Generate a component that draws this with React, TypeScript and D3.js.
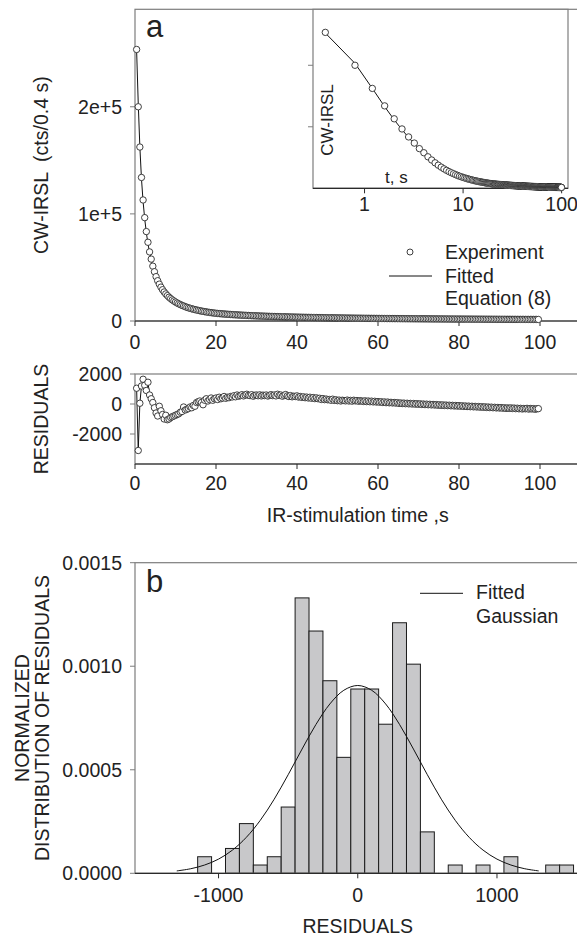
import React from 'react';
import * as d3 from 'd3';

// ---------- DATA ----------
const CHANNEL_S = 0.4; // CW-IRSL channel width (s)

// CW-IRSL intensity (cts / 0.4 s), channel 1..249
const intensity: number[] = [
  253500, 200000, 162400, 134000, 113000, 96500, 83500, 73500, 64500, 57800, 51200, 46000, 41400,
  37600, 34400, 31600, 29200, 27100, 25300, 23700, 22200, 20900, 19700, 18700, 17700, 16800, 16000,
  15300, 14600, 14000, 13400, 12800, 12300, 11900, 11400, 11000, 10600, 10300, 9900, 9600, 9300, 9000,
  8700, 8500, 8200, 8000, 7800, 7600, 7400, 7200,
  7050, 6910, 6780, 6660, 6540, 6420, 6310, 6200, 6090, 5990,
  5890, 5800, 5710, 5620, 5530, 5450, 5370, 5290, 5210, 5140,
  5060, 4990, 4920, 4860, 4790, 4730, 4670, 4610, 4550, 4490,
  4440, 4380, 4330, 4280, 4230, 4180, 4130, 4090, 4040, 3990,
  3950, 3910, 3870, 3820, 3780, 3740, 3710, 3670, 3630, 3600,
  3560, 3520, 3490, 3460, 3420, 3390, 3360, 3330, 3300, 3270,
  3240, 3210, 3180, 3150, 3130, 3100, 3070, 3050, 3020, 3000,
  2970, 2950, 2920, 2900, 2880, 2850, 2830, 2810, 2790, 2770,
  2740, 2720, 2700, 2680, 2660, 2640, 2620, 2610, 2590, 2570,
  2550, 2530, 2510, 2500, 2480, 2460, 2450, 2430, 2410, 2400,
  2380, 2370, 2350, 2330, 2320, 2300, 2290, 2280, 2260, 2250,
  2230, 2220, 2210, 2190, 2180, 2170, 2150, 2140, 2130, 2110,
  2100, 2090, 2080, 2070, 2050, 2040, 2030, 2020, 2010, 2000,
  1990, 1980, 1960, 1950, 1940, 1930, 1920, 1910, 1900, 1890,
  1880, 1870, 1860, 1850, 1840, 1830, 1820, 1820, 1810, 1800,
  1790, 1780, 1770, 1760, 1750, 1750, 1740, 1730, 1720, 1710,
  1700, 1700, 1690, 1680, 1670, 1660, 1660, 1650, 1640, 1630,
  1630, 1620, 1610, 1600, 1600, 1590, 1580, 1580, 1570, 1560,
  1560, 1550, 1540, 1540, 1530, 1520, 1520, 1510, 1500, 1500,
  1490, 1490, 1480, 1470, 1470, 1460, 1460, 1450, 1440,
];

// residuals (experiment - fit), channel 1..249
const residuals: number[] = [
  1050, -3100, 50, 1200, 1650, 1250, 900, 1450, 600, 350,
  100, -250, -600, -800, -150, -450, -700, -1000, -750, -1050,
  -1000, -900, -850, -800, -750, -700, -650, -550, -500, -200,
  -400, -350, -300, -200, -250, -100, -150, 100, 150, 200,
  100, -50, 250, 350, 200, 300, 400, 250, 350, 400,
  300, 450, 350, 400, 500, 380, 450, 420, 500, 470,
  550, 480, 600, 520, 560, 620, 540, 600, 650, 580,
  560, 620, 520, 580, 600, 550, 610, 540, 590, 560,
  600, 530, 580, 620, 560, 600, 540, 650, 570, 600,
  520, 580, 630, 540, 500, 560, 480, 520, 500, 540,
  460, 500, 440, 480, 420, 460, 400, 450, 380, 430,
  360, 410, 350, 380, 300, 360, 290, 330, 280, 300,
  250, 320, 240, 280, 220, 260, 200, 250, 230, 210,
  260, 200, 240, 190, 250, 210, 230, 180, 220, 200,
  170, 210, 160, 200, 150, 190, 140, 180, 130, 160,
  120, 150, 100, 140, 90, 130, 80, 110, 70, 100,
  60, 90, 40, 70, 30, 60, 20, 50, 10, 40,
  0, 30, -10, 20, -20, 10, -30, 0, -40, -10,
  -50, -20, -60, -30, -70, -40, -80, -50, -90, -60,
  -100, -70, -110, -80, -120, -90, -130, -100, -140, -110,
  -150, -120, -160, -130, -170, -140, -180, -150, -190, -160,
  -200, -170, -210, -180, -220, -190, -230, -200, -240, -210,
  -250, -220, -260, -230, -270, -240, -280, -250, -290, -260,
  -290, -260, -300, -270, -310, -280, -320, -290, -330, -300,
  -320, -290, -340, -300, -330, -310, -350, -320, -310,
];

// histogram of residuals (bin left edges, width 100) and normalized density
const binStarts: number[] = [-1150, -1050, -950, -850, -750, -650, -550, -450, -350, -250, -150, -50, 50, 150, 250, 350, 450, 550, 650, 750, 850, 950, 1050, 1150, 1250, 1350, 1450];
const binDensity: number[] = [0.00008, 0, 0.00012, 0.00024, 0.00004, 0.00008, 0.00032, 0.00133, 0.00117, 0.00093, 0.00056, 0.00089, 0.00089, 0.00072, 0.00121, 0.00101, 0.0002, 0, 0.00004, 0, 0.00004, 0, 0.00008, 0, 0, 0.00004, 0.00004];
const BIN_WIDTH = 100;

// fitted gaussian curve, sampled
const gaussX: number[] = [-1300, -1200, -1100, -1000, -900, -800, -700, -600, -500, -400, -300, -200, -100, 0, 100, 200, 300, 400, 500, 600, 700, 800, 900, 1000, 1100, 1200, 1300];
const gaussY: number[] = [0.0000115, 0.000022, 0.00004, 0.0000685, 0.000112, 0.000174, 0.000256, 0.000358, 0.000476, 0.0006, 0.000719, 0.000818, 0.000884, 0.000907, 0.000884, 0.000818, 0.000719, 0.0006, 0.000476, 0.000358, 0.000256, 0.000174, 0.000112, 0.0000685, 0.00004, 0.000022, 0.0000115];

// ticks
const xTicksTime = [0, 20, 40, 60, 80, 100];
const yTicksA = [0, 100000, 200000];
const yTickLabelsA = ['0', '1e+5', '2e+5'];
const yTicksR = [2000, 0, -2000];
const yTickLabelsR = ['2000', '0', '-2000'];
const xTicksInset = [1, 10, 100];
const yTicksInset = [100000, 200000];
const xTicksB = [-1000, 0, 1000];
const yTicksB = [0, 0.0005, 0.001, 0.0015];
const yTickLabelsB = ['0.0000', '0.0005', '0.0010', '0.0015'];

// ---------- STYLE ----------
const FONT = '"Liberation Sans", Arial, Helvetica, sans-serif';
const FS = 19.5;
const TXT = '#222';
const FRAME = '#7d7d7d';
const AXIS = '#2a2a2a';
const TICK = 5;

export default function App() {
  const W = 577, H = 937;
  const times = intensity.map((_, i) => +((i + 1) * CHANNEL_S).toFixed(1));
  const fitted = intensity.map((v, i) => v - residuals[i]);

  // panel a
  const AL = 135, AT = 9.3, AB = 321, RIGHT = 580.5;
  const xA = d3.scaleLinear().domain([0, 110]).range([AL, RIGHT]);
  const yA = d3.scaleLinear().domain([0, 291000]).range([AB, AT]);
  // residuals panel
  const RT = 374, RB = 464;
  const yR = d3.scaleLinear().domain([-4000, 2000]).range([RB, RT]);
  // inset
  const IL = 313, IR = 568, IT = AT, IB = 188.3;
  const xI = d3.scaleLog().domain([0.3, 116]).range([IL, IR]);
  const yI = d3.scaleLinear().domain([0, 291000]).range([IB, IT]);
  // panel b
  const BT = 562.7, BB = 873.3;
  const xB = d3.scaleLinear().domain([-1600, 1600]).range([AL, RIGHT]);
  const yB = d3.scaleLinear().domain([0, 0.0015]).range([BB, BT]);

  const lineA = d3.line<number>().x((_, i) => xA(times[i])).y((d) => yA(d));
  const lineI = d3.line<number>().x((_, i) => xI(times[i])).y((d) => yI(d));
  const lineR = d3.line<number>().x((_, i) => xA(times[i])).y((d) => yR(d));
  const lineG = d3.line<number>().x((_, i) => xB(gaussX[i])).y((d) => yB(d)).curve(d3.curveCatmullRom);

  const R = 3.2;
  const circleStyle = { fill: '#fff', stroke: '#2a2a2a', strokeWidth: 0.9 };

  const frame = (x0: number, y0: number, x1: number, y1: number) => (
    <g>
      <rect x={x0} y={y0} width={x1 - x0} height={y1 - y0} fill="none" stroke={FRAME} strokeWidth={1.2} />
      <line x1={x0} x2={x1} y1={y1} y2={y1} stroke={AXIS} strokeWidth={1.2} />
    </g>
  );

  const xMid = (AL + RIGHT) / 2;

  return (
    <svg width={W} height={H} viewBox={`0 0 ${W} ${H}`} style={{ position: 'absolute', left: 0, top: 0, background: '#fff' }} fontFamily={FONT}>
      <rect x={0} y={0} width={W} height={H} fill="#fff" />

      {/* ================= PANEL A ================= */}
      {frame(AL, AT, RIGHT + 2, AB)}
      {xTicksTime.map((t) => (
        <g key={'xa' + t}>
          <line x1={xA(t)} x2={xA(t)} y1={AB} y2={AB + TICK} stroke={AXIS} />
          <text x={xA(t)} y={349} textAnchor="middle" fontSize={FS} fill={TXT}>{t}</text>
        </g>
      ))}
      {yTicksA.map((v, i) => (
        <g key={'ya' + v}>
          <line x1={AL - TICK} x2={AL} y1={yA(v)} y2={yA(v)} stroke={FRAME} />
          <text x={122} y={yA(v) + 7} textAnchor="end" fontSize={FS} fill={TXT}>{yTickLabelsA[i]}</text>
        </g>
      ))}
      <text transform={`translate(47.5,${(AT + AB) / 2}) rotate(-90)`} textAnchor="middle" fontSize={FS} fill={TXT} xmlSpace="preserve">CW-IRSL  (cts/0.4 s)</text>
      <text x={146} y={37} fontSize={31} fill={TXT}>a</text>

      <path d={lineA(fitted) || ''} fill="none" stroke="#111" strokeWidth={1} />
      {intensity.map((v, i) => (
        <circle key={'pa' + i} cx={xA(times[i])} cy={yA(v)} r={R} {...circleStyle} />
      ))}

      {/* legend a */}
      <circle cx={410} cy={252} r={3} {...circleStyle} />
      <text x={445} y={259} fontSize={FS} fill={TXT}>Experiment</text>
      <line x1={389} x2={432} y1={276} y2={276} stroke="#111" strokeWidth={1} />
      <text x={445} y={283} fontSize={FS} fill={TXT}>Fitted</text>
      <text x={445} y={304.5} fontSize={FS} fill={TXT}>Equation (8)</text>

      {/* ---- inset ---- */}
      <rect x={IL} y={IT} width={IR - IL} height={IB - IT} fill="#fff" stroke={FRAME} strokeWidth={1.2} />
      <line x1={IL} x2={IR} y1={IB} y2={IB} stroke={AXIS} strokeWidth={1.2} />
      {xTicksInset.map((t) => (
        <g key={'xi' + t}>
          <line x1={xI(t)} x2={xI(t)} y1={IB} y2={IB + TICK} stroke={AXIS} />
          <text x={xI(t)} y={211} textAnchor="middle" fontSize={FS} fill={TXT}>{t}</text>
        </g>
      ))}
      {yTicksInset.map((v) => (
        <line key={'yi' + v} x1={IL - TICK} x2={IL} y1={yI(v)} y2={yI(v)} stroke={FRAME} />
      ))}
      <path d={lineI(fitted) || ''} fill="none" stroke="#111" strokeWidth={1} />
      {intensity.map((v, i) => (
        <circle key={'pi' + i} cx={xI(times[i])} cy={yI(v)} r={R} {...circleStyle} />
      ))}
      <text transform={`translate(333,120) rotate(-90)`} textAnchor="middle" fontSize={17} fill={TXT}>CW-IRSL</text>
      <text x={385} y={182.5} fontSize={17} fill={TXT}>t, s</text>

      {/* ================= RESIDUALS ================= */}
      {frame(AL, RT, RIGHT + 2, RB)}
      {xTicksTime.map((t) => (
        <g key={'xr' + t}>
          <line x1={xA(t)} x2={xA(t)} y1={RB} y2={RB + TICK} stroke={AXIS} />
          <text x={xA(t)} y={490} textAnchor="middle" fontSize={FS} fill={TXT}>{t}</text>
        </g>
      ))}
      {yTicksR.map((v, i) => (
        <g key={'yr' + v}>
          <line x1={AL - TICK} x2={AL} y1={yR(v)} y2={yR(v)} stroke={FRAME} />
          <text x={122} y={yR(v) + 7} textAnchor="end" fontSize={FS} fill={TXT}>{yTickLabelsR[i]}</text>
        </g>
      ))}
      <text transform={`translate(47.5,${(RT + RB) / 2}) rotate(-90)`} textAnchor="middle" fontSize={FS} fill={TXT}>RESIDUALS</text>
      <text x={xMid} y={521.5} textAnchor="middle" fontSize={FS} fill={TXT}>IR-stimulation time ,s</text>
      <path d={lineR(residuals) || ''} fill="none" stroke="#111" strokeWidth={1} />
      {residuals.map((v, i) => (
        <circle key={'pr' + i} cx={xA(times[i])} cy={yR(v)} r={R} {...circleStyle} />
      ))}

      {/* ================= PANEL B ================= */}
      {binStarts.map((b, i) =>
        binDensity[i] > 0 ? (
          <rect
            key={'bar' + b}
            x={xB(b)}
            y={yB(binDensity[i])}
            width={xB(b + BIN_WIDTH) - xB(b)}
            height={yB(0) - yB(binDensity[i])}
            fill="#c8c8ca"
            stroke="#1a1a1a"
            strokeWidth={1}
          />
        ) : null
      )}
      <path d={lineG(gaussY) || ''} fill="none" stroke="#111" strokeWidth={1} />
      {frame(AL, BT, RIGHT + 2, BB)}
      {xTicksB.map((t) => (
        <g key={'xb' + t}>
          <line x1={xB(t)} x2={xB(t)} y1={BB} y2={BB + TICK} stroke={AXIS} />
          <text x={xB(t)} y={902} textAnchor="middle" fontSize={FS} fill={TXT}>{t}</text>
        </g>
      ))}
      {yTicksB.map((v, i) => (
        <g key={'yb' + v}>
          <line x1={AL - TICK} x2={AL} y1={yB(v)} y2={yB(v)} stroke={FRAME} />
          <text x={122} y={yB(v) + 7} textAnchor="end" fontSize={FS} fill={TXT}>{yTickLabelsB[i]}</text>
        </g>
      ))}
      <text transform={`translate(29,${(BT + BB) / 2}) rotate(-90)`} textAnchor="middle" fontSize={FS} fill={TXT}>NORMALIZED</text>
      <text transform={`translate(49,${(BT + BB) / 2}) rotate(-90)`} textAnchor="middle" fontSize={FS} fill={TXT}>DISTRIBUTION OF RESIDUALS</text>
      <text x={xMid} y={933} textAnchor="middle" fontSize={FS} fill={TXT}>RESIDUALS</text>
      <text x={146} y={591.5} fontSize={31} fill={TXT}>b</text>

      {/* legend b */}
      <line x1={420} x2={463} y1={593.3} y2={593.3} stroke="#111" strokeWidth={1} />
      <text x={476} y={599} fontSize={FS} fill={TXT}>Fitted</text>
      <text x={476} y={622.7} fontSize={FS} fill={TXT}>Gaussian</text>
    </svg>
  );
}
